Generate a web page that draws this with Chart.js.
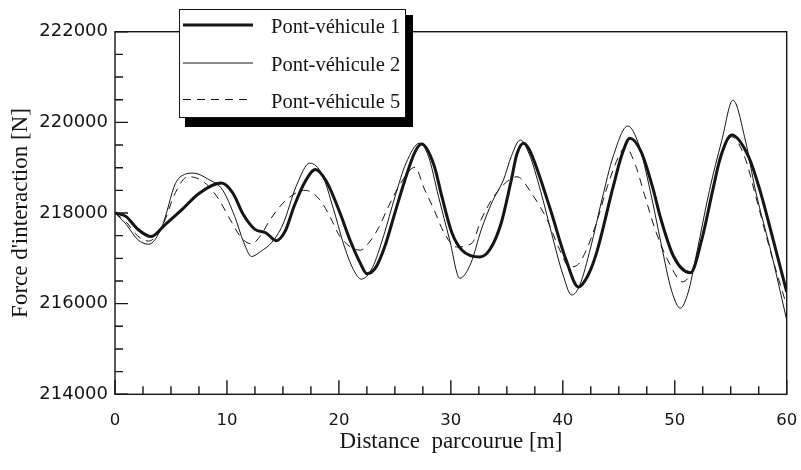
<!DOCTYPE html>
<html>
<head>
<meta charset="utf-8">
<script src="https://cdn.jsdelivr.net/npm/chart.js@4/dist/chart.umd.min.js"></script>
<style>
html,body{margin:0;padding:0;background:#fff;}
#wrap{width:801px;height:470px;}
</style>
</head>
<body>
<div id="wrap"><canvas id="c" width="801" height="470"></canvas></div>
<script>
// ---- Data ----
const seriesNames = ['Pont-véhicule 1', 'Pont-véhicule 2', 'Pont-véhicule 5'];

const x1 = [0,1,2,3.2,4.5,6,7.5,9.5,10.5,11.5,12.5,13.5,14.4,15.2,16,17,17.9,18.9,20.1,21,21.9,22.5,23.3,24.1,25,25.9,26.8,27.4,28.5,29.2,30.1,31,32.6,33.5,34.5,35.4,35.9,36.5,37,37.8,38.9,40.3,41.4,42.2,43,44.5,45.3,46,47,48.1,48.7,49.9,51.4,52.4,53.4,54.1,55.1,56.6,57.6,58.8,60];
const y1 = [218000,217920,217650,217480,217750,218080,218430,218660,218450,217950,217640,217560,217390,217600,218150,218700,218960,218690,218000,217400,216900,216660,216800,217260,218000,218730,219350,219520,219050,218360,217560,217180,217030,217200,217780,218730,219300,219540,219400,218900,218070,216960,216370,216600,217110,218580,219300,219650,219350,218500,217920,217040,216680,217400,218510,219240,219720,219240,218510,217400,216260];

const x2 = [0,1,2,3,4.2,5.4,6.2,7,8.3,9.6,10.7,11.5,12.2,13,14,15,16.2,17.4,18.5,19.5,20.5,21.3,22,23,24,25,26,27.2,28,28.9,29.9,30.8,31.8,32.7,33.7,34.7,35.4,36.2,37,38,39,40,40.8,41.5,42.5,43.5,44.5,45.8,46.8,47.8,48.8,49.7,50.5,51.2,51.9,53.1,54.2,55.2,56.3,57.2,58.7,60];
const y2 = [218000,217750,217420,217310,217700,218650,218850,218880,218750,218510,217920,217350,217040,217150,217350,217750,218600,219100,218850,218100,217250,216750,216540,216800,217500,218350,219100,219540,219250,218360,217400,216560,216900,217620,218250,218730,219250,219610,219300,218500,217550,216650,216190,216400,217250,218300,219250,219920,219500,218500,217300,216300,215900,216250,217040,218500,219600,220490,219610,218510,217040,215640];

const x5 = [0,1,2,3,4.2,5.4,6.5,7.5,8.4,9.3,10.3,11.3,12.2,13,13.85,15.3,17,18.3,19.2,20.1,21.9,22.7,23.6,24.4,25.5,26.8,27.6,28.5,29.4,30.5,31.9,32.7,33.8,35.2,35.9,37.3,38.6,39.7,40.6,41.3,42.1,43,44,45,45.6,46.5,47.3,48.3,49.5,50.7,51.5,52.3,53.3,54.3,55.1,56.3,57.2,58.5,60];
const y5 = [218000,217800,217500,217380,217700,218450,218800,218750,218580,218290,217850,217450,217320,217500,217850,218290,218500,218290,217920,217480,217180,217350,217700,218130,218650,219010,218550,218070,217560,217250,217340,217850,218350,218730,218800,218400,217850,217200,216810,216850,217180,217780,218600,219250,219450,219050,218400,217600,216900,216480,216700,217300,218400,219350,219680,219200,218400,217200,215950];

const xTickValues = [0,2.5,5,7.5,10,12.5,15,17.5,20,22.5,25,27.5,30,32.5,35,37.5,40,42.5,45,47.5,50,52.5,55,57.5,60];
const xTickLabels = ['0','10','20','30','40','50','60'];
const yTickValues = [214000,214500,215000,215500,216000,216500,217000,217500,218000,218500,219000,219500,220000,220500,221000,221500,222000];
const yTickLabels = ['214000','216000','218000','220000','222000'];

const xTitle = 'Distance  parcourue [m]';
const yTitle = "Force d'interaction [N]";

// ---- Build ----
const ink = '#151515';
const pts = (xs, ys) => xs.map((x, i) => ({x: x, y: ys[i]}));

const frameTicks = {
  id: 'frameTicks',
  afterDatasetsDraw(chart) {
    const ctx = chart.ctx, a = chart.chartArea;
    const xs = chart.scales.x, ys = chart.scales.y;
    ctx.save();
    ctx.strokeStyle = ink;
    ctx.lineWidth = 1.4;
    ctx.strokeRect(a.left, a.top, a.right - a.left, a.bottom - a.top);
    ctx.beginPath();
    xs.ticks.forEach(t => {
      const px = xs.getPixelForValue(t.value);
      const major = xTickLabels.includes(String(t.value));
      ctx.moveTo(px, a.bottom);
      ctx.lineTo(px, a.bottom - (major ? 14 : 8));
    });
    ys.ticks.forEach(t => {
      const py = ys.getPixelForValue(t.value);
      const major = yTickLabels.includes(String(t.value));
      ctx.moveTo(a.left, py);
      ctx.lineTo(a.left + (major ? 13 : 8), py);
    });
    ctx.stroke();
    ctx.restore();
  },
  afterDraw(chart) {
    const ctx = chart.ctx;
    ctx.save();
    // shadow
    ctx.fillStyle = '#000';
    ctx.fillRect(185, 15, 228, 112);
    // box
    ctx.fillStyle = '#fff';
    ctx.fillRect(179, 9, 226, 108);
    ctx.strokeStyle = ink;
    ctx.lineWidth = 1;
    ctx.strokeRect(179.5, 9.5, 226, 108);
    const rows = [25, 63, 99.5];
    chart.data.datasets.forEach((ds, i) => {
      const y = rows[i];
      ctx.beginPath();
      ctx.setLineDash(ds.borderDash || []);
      ctx.lineWidth = ds.borderWidth;
      ctx.strokeStyle = ds.borderColor;
      ctx.moveTo(183, y);
      ctx.lineTo(253, y);
      ctx.stroke();
      ctx.setLineDash([]);
      ctx.fillStyle = ink;
      ctx.font = '20.5px "Liberation Serif", serif';
      ctx.textBaseline = 'alphabetic';
      ctx.textAlign = 'left';
      ctx.fillText(ds.label, 271, y + 8);
    });
    ctx.restore();
  }
};

new Chart(document.getElementById('c'), {
  type: 'line',
  data: {
    datasets: [
      {label: seriesNames[0], data: pts(x1, y1), borderColor: ink, borderWidth: 3, pointRadius: 0, fill: false, cubicInterpolationMode: 'monotone'},
      {label: seriesNames[1], data: pts(x2, y2), borderColor: ink, borderWidth: 1, pointRadius: 0, fill: false, cubicInterpolationMode: 'monotone'},
      {label: seriesNames[2], data: pts(x5, y5), borderColor: ink, borderWidth: 1, borderDash: [8, 6], pointRadius: 0, fill: false, cubicInterpolationMode: 'monotone'}
    ]
  },
  options: {
    responsive: false,
    animation: false,
    devicePixelRatio: 1,
    layout: {padding: {top: 31.7, right: 14.3, left: 0, bottom: 0}},
    plugins: {legend: {display: false}, tooltip: {enabled: false}},
    scales: {
      x: {
        type: 'linear', min: 0, max: 60,
        afterBuildTicks: s => { s.ticks = xTickValues.map(v => ({value: v})); },
        afterFit: s => { s.height = 75.7; s.paddingRight = 0; s.paddingLeft = 0; },
        ticks: {
          autoSkip: false, maxRotation: 0, padding: 17, color: ink,
          font: {family: '"DejaVu Sans", sans-serif', size: 16.5},
          callback: v => xTickLabels.includes(String(v)) ? String(v) : ''
        },
        grid: {display: false, drawTicks: false},
        border: {display: false},
        title: {display: true, text: xTitle, color: ink,
          font: {family: '"Liberation Serif", serif', size: 23}, padding: {top: 0, bottom: 14}}
      },
      y: {
        type: 'linear', min: 214000, max: 222000,
        afterBuildTicks: s => { s.ticks = yTickValues.map(v => ({value: v})); },
        afterFit: s => { s.width = 115; },
        ticks: {
          autoSkip: false, padding: 7, color: ink,
          font: {family: '"DejaVu Sans", sans-serif', size: 18},
          callback: v => yTickLabels.includes(String(v)) ? String(v) : ''
        },
        grid: {display: false, drawTicks: false},
        border: {display: false},
        title: {display: true, text: yTitle, color: ink,
          font: {family: '"Liberation Serif", serif', size: 23}, padding: {top: 7, bottom: 0}}
      }
    }
  },
  plugins: [frameTicks]
});
</script>
</body>
</html>
